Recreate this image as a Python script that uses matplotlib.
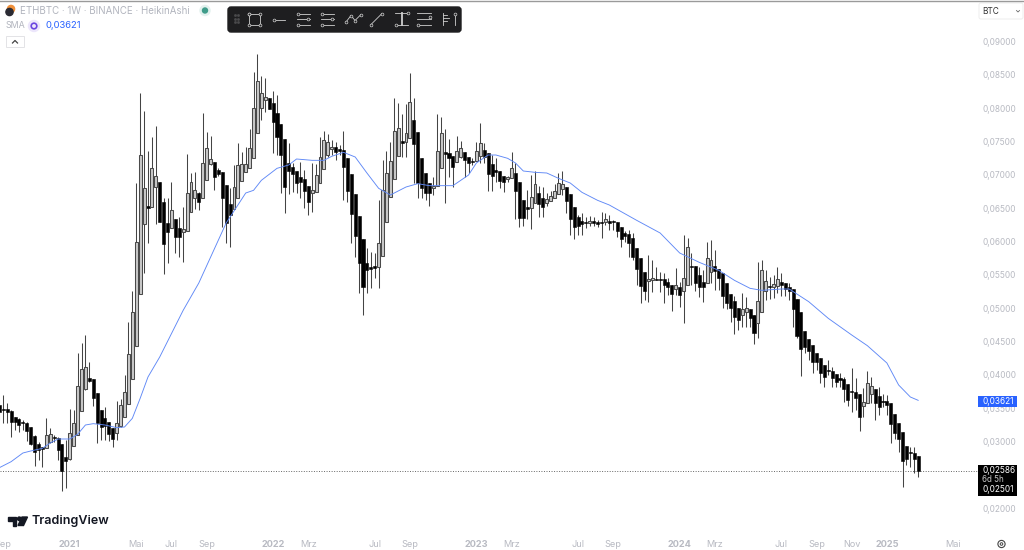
import numpy as np
import matplotlib
matplotlib.use('Agg')
import matplotlib.pyplot as plt
from matplotlib.patches import Circle, FancyBboxPatch, Rectangle
from matplotlib.ticker import FixedLocator, FuncFormatter

plt.rcParams['font.family'] = ['Inter', 'DejaVu Sans']

# weekly Heikin Ashi prices, ETHBTC in units of 0.0001 BTC
open_e4 = [355,349,349,346,337,334,330,328,322,308,296,292,
           290,299,307,305,296,277,274,293,310,346,379,395,
           394,373,347,335,329,320,313,323,337,356,394,444,
           522,626,653,652,682,689,659,628,620,634,620,614,
           616,644,665,673,665,692,716,719,707,704,685,656,
           649,665,691,704,710,725,763,800,812,815,808,793,
           776,754,718,712,706,697,694,683,673,674,688,709,
           730,739,742,739,737,725,701,671,638,604,568,562,
           563,562,578,629,667,694,728,751,749,755,782,764,
           725,703,688,680,683,710,734,733,728,719,727,734,
           727,721,721,728,737,733,716,707,706,698,694,695,
           703,689,662,652,650,658,673,665,658,661,665,671,
           679,682,671,652,637,631,629,628,631,629,629,629,
           631,631,629,622,613,611,605,590,575,554,541,542,
           544,544,544,539,535,529,532,526,535,563,563,550,
           539,538,554,563,559,553,538,521,511,500,490,494,
           499,490,478,494,526,533,532,533,539,538,532,529,
           514,494,466,454,445,433,425,415,407,406,401,395,
           394,386,376,374,371,353,358,371,379,368,361,361,
           358,341,328,314,293,284,283,279]
high_e4 = [363,370,358,347,337,335,332,330,322,310,299,292,
           335,320,310,307,296,302,349,347,433,448,460,419,
           394,373,347,352,329,320,361,364,400,479,526,688,
           823,796,736,757,773,689,665,665,689,634,637,652,
           731,703,704,674,793,764,758,719,710,704,685,680,
           715,748,734,742,769,854,881,848,845,815,826,820,
           776,754,748,718,706,719,707,683,718,716,757,766,
           761,752,749,745,766,725,701,671,638,604,590,584,
           583,662,722,736,749,815,808,791,806,853,815,764,
           725,703,688,697,791,787,769,754,728,758,751,734,
           727,725,749,778,748,733,730,725,706,698,698,734,
           718,689,662,677,700,706,683,682,673,676,686,703,
           706,682,671,652,640,643,637,638,637,632,644,643,
           640,632,629,622,616,617,613,590,575,554,580,572,
           562,554,553,545,535,560,539,610,605,583,563,562,
           557,599,602,587,559,553,538,521,518,500,523,517,
           499,490,569,572,557,547,550,562,553,538,538,529,
           514,494,466,454,445,433,425,415,422,412,401,403,
           397,386,410,395,371,380,406,397,379,382,371,370,
           358,341,328,314,293,292,292,279]
low_e4 = [333,328,328,307,318,314,318,301,295,263,272,262,
          290,298,299,272,226,230,272,293,310,346,377,389,
          353,298,302,302,301,292,302,322,337,356,394,444,
          522,553,598,652,626,629,551,568,620,583,577,569,
          616,644,649,647,665,692,715,677,698,622,598,592,
          649,665,691,704,710,725,763,782,794,799,733,730,
          673,643,671,674,673,665,650,640,644,674,688,709,
          727,730,722,730,662,659,598,577,523,490,523,530,
          545,530,578,629,667,694,728,727,727,755,688,665,
          665,662,653,670,683,710,658,697,682,719,725,697,
          703,715,721,718,718,676,676,689,680,674,689,695,
          634,622,623,634,619,658,637,637,653,661,665,671,
          670,643,610,604,610,610,620,623,623,622,605,625,
          618,618,607,592,599,577,572,535,508,512,509,524,
          542,524,508,520,496,520,502,478,535,535,526,517,
          509,538,538,527,527,500,499,479,461,467,472,472,
          472,446,455,494,512,514,515,523,518,518,512,472,
          455,398,433,422,403,407,388,382,400,382,382,382,
          359,353,344,347,316,337,358,358,332,340,352,340,
          298,304,284,232,265,262,253,247]
close_e4 = [345,347,345,330,330,325,328,316,296,284,287,289,
            310,311,305,287,256,271,313,328,383,409,412,391,
            365,328,322,323,311,304,328,355,374,431,494,600,
            730,680,650,710,698,629,596,614,647,607,607,619,
            673,689,677,659,718,740,724,697,701,665,628,640,
            682,715,716,716,740,800,841,823,817,799,779,757,
            730,682,706,701,688,689,676,659,677,700,727,752,
            749,742,734,736,712,676,641,608,568,532,557,559,
            560,598,677,703,721,766,770,748,763,809,746,688,
            680,673,673,683,736,763,731,725,712,736,740,722,
            718,719,736,748,727,701,698,704,691,689,697,710,
            676,635,635,649,667,686,656,652,664,668,676,688,
            686,661,634,622,623,627,628,631,628,626,628,634,
            628,629,616,604,608,598,577,559,533,526,544,545,
            542,542,535,532,521,535,520,545,592,562,538,532,
            532,575,572,556,545,518,508,500,487,482,499,500,
            485,463,511,557,541,532,536,544,535,529,526,499,
            458,439,442,436,419,419,403,397,406,395,389,392,
            379,363,374,365,337,359,388,383,358,352,359,355,
            326,313,304,271,274,283,274,256]

# SMA at a few dozen weeks
sma_week = [0,3,6,8,11,13,15,18,20,22,24,27,30,32,34,36,38,41,47,51,58,63,65,67,71,
            74,76,80,83,85,88,91,94,97,100,104,107,110,116,120,122,125,127,130,132,
            134,137,140,143,146,149,153,156,163,169,174,179,184,188,192,195,200,202,
            207,212,218,222,227,230,233,235]
sma_e4 = [261,270,283,286,290,298,304,304,311,325,327,325,321,322,335,365,397,427,497,538,628,673,677,692,710,
          715,724,722,722,728,734,727,703,680,670,682,687,684,684,700,718,730,730,725,718,
          706,704,703,695,688,674,662,655,632,613,583,569,557,542,530,527,529,529,
          510,485,460,444,418,385,367,362]

price_ticks = [0.02, 0.03, 0.035, 0.04, 0.045, 0.05, 0.055, 0.06, 0.065, 0.07,
               0.075, 0.08, 0.085, 0.09]
time_ticks = [1, 18, 35, 44, 53, 70, 79, 96, 105, 122, 131, 148, 157, 174, 183, 200, 209, 218, 227, 244]
time_labels = ['Sep', '2021', 'Mai', 'Jul', 'Sep', '2022', 'Mrz', 'Jul', 'Sep', '2023', 'Mrz',
               'Jul', 'Sep', '2024', 'Mrz', 'Jul', 'Sep', 'Nov', '2025', 'Mai']
year_labels = ['2021', '2022', '2023', '2024', '2025']

last_close = '0,02586'
last_low = '0,02501'
countdown = '6d 5h'
sma_last = '0,03621'

GREY = '#b2b5be'
BLUE = '#2962ff'
WICK = '#444444'

opens = np.array(open_e4) * 1e-4
highs = np.array(high_e4) * 1e-4
lows = np.array(low_e4) * 1e-4
closes = np.array(close_e4) * 1e-4
weeks = np.arange(len(opens))

fig = plt.figure(figsize=(10.24, 5.5), dpi=100)
fig.patch.set_facecolor('white')

# price pane
ax = fig.add_axes([0, 14 / 550, 978 / 1024, 536 / 550])
ax.vlines(weeks, lows, highs, color=WICK, linewidth=0.75, zorder=2)
down = closes <= opens
ax.bar(weeks[down], (opens - closes)[down] + 0.00002, bottom=closes[down], width=0.78,
       color='black', edgecolor='black', linewidth=0.4, zorder=3)
ax.bar(weeks[~down], (closes - opens)[~down], bottom=opens[~down], width=0.74,
       color='#c9c9c9', edgecolor='#4a4a4a', linewidth=0.75, zorder=3)
ax.plot(sma_week, np.array(sma_e4) * 1e-4, color='#5f88f6', linewidth=0.65, zorder=4)
ax.axhline(closes[-1], color='#666666', linewidth=0.7, linestyle=(0, (1, 1.6)), zorder=1)

ax.set_xlim(0.15, 250.3)
ax.set_ylim(0.01585, 0.09625)
ax.yaxis.tick_right()
ax.yaxis.set_major_locator(FixedLocator(price_ticks))
ax.yaxis.set_major_formatter(FuncFormatter(lambda v, p: f'{v:.5f}'.replace('.', ',')))
ax.tick_params(axis='y', length=0, pad=3, labelsize=6.0, labelcolor='#b8bac2')
ax.xaxis.set_major_locator(FixedLocator(time_ticks))
ax.set_xticklabels(time_labels)
ax.tick_params(axis='x', length=0, pad=3, labelsize=6.6, labelcolor='#b8bac2')
for lab in ax.get_xticklabels():
    if lab.get_text() in year_labels:
        lab.set_fontweight('bold')
for side in ax.spines.values():
    side.set_visible(False)

# overlay in pixel coordinates for the TradingView furniture
ov = fig.add_axes([0, 0, 1, 1])
ov.set_xlim(0, 1024)
ov.set_ylim(550, 0)
ov.axis('off')
ov.patch.set_alpha(0)

ov.plot([0, 1024], [0.5, 0.5], color='#9a9a9a', linewidth=1)

# header
ov.add_patch(Circle((11, 9), 3.6, color='#f0903a'))
ov.add_patch(Circle((9.5, 12), 3.6, color='#2b2b33'))
ov.text(20, 11, 'ETHBTC · 1W · BINANCE · HeikinAshi', fontsize=7.0, color=GREY, va='center')
ov.add_patch(Circle((205, 10.5), 5, color='#e3f1ee'))
ov.add_patch(Circle((205, 10.5), 2.5, color='#3f9c8a'))
ov.text(6, 26, 'SMA', fontsize=6.4, color=GREY, va='center')
ov.add_patch(Circle((34, 26), 5.5, color='#ece6fb'))
ov.add_patch(Circle((34, 26), 2.8, facecolor='none', edgecolor='#6a45e0', linewidth=1.2))
ov.text(46, 26, sma_last, fontsize=6.8, color=BLUE, va='center')
ov.add_patch(Rectangle((6, 36), 18, 11, facecolor='white', edgecolor='#e3e3e6', linewidth=0.7))
ov.plot([12.5, 15, 17.5], [43, 40.5, 43], color='#444444', linewidth=0.9)

# drawing toolbar
ov.add_patch(FancyBboxPatch((230, 9), 229, 21, boxstyle='round,pad=2,rounding_size=3',
                            facecolor='#1e1e20', edgecolor='#1e1e20', zorder=5))
tool = dict(color='#cfcfcf', linewidth=0.6, zorder=6, marker='o', markersize=2.0,
            markerfacecolor='#1e1e20', markeredgecolor='#cfcfcf', markeredgewidth=0.5)
plain = dict(color='#cfcfcf', linewidth=0.6, zorder=6)
dot = dict(marker='o', markersize=2.0, markerfacecolor='#1e1e20', markeredgecolor='#cfcfcf',
           markeredgewidth=0.5, linestyle='none', zorder=7)
for gx, gy in [(235, 15), (238, 15), (235, 18.5), (238, 18.5), (235, 22), (238, 22)]:
    ov.plot(gx, gy, 's', color='#4a4a4c', markersize=0.9, zorder=6)
ov.plot([249, 260, 260, 249, 249], [13.5, 13.5, 24.5, 24.5, 13.5], **tool)
ov.plot([274, 285], [19.5, 19.5], **plain)
ov.plot([274], [19.5], **dot)
for fy, fx in ((14, 298), (19, 308), (24.5, 298)):
    ov.plot([297, 310], [fy, fy], **plain)
    ov.plot([fx], [fy], **dot)
for fy, fx in ((14, 322), (19, 332), (24.5, 322)):
    ov.plot([321, 334], [fy, fy], **plain)
    ov.plot([fx], [fy], **dot)
ov.plot([346, 351, 355, 361], [22, 15.5, 20.5, 14.5], **tool)
ov.plot([371, 382], [24.5, 13.5], **tool)
ov.plot([395, 408], [13, 13], **plain)
ov.plot([396, 408], [25, 25], **plain)
ov.plot([408], [13], **dot)
ov.plot([396], [25], **dot)
ov.plot([401.5, 401.5], [13, 25], color='#cfcfcf', linewidth=1.3, zorder=6)
for fy in (13, 19, 25):
    ov.plot([417, 431], [fy, fy], **plain)
ov.plot([430], [16.5], **dot)
ov.plot([418], [24.5], **dot)
ov.plot([442.5, 442.5], [13, 25], **plain)
for fy, fw in ((15, 4), (18, 6), (21, 4)):
    ov.plot([442.5, 442.5 + fw], [fy, fy], **plain)
ov.plot([455, 455], [13.5, 25], **plain)
ov.plot([455], [13.5], **dot)

# price scale labels
ov.add_patch(FancyBboxPatch((980, 4), 42, 14, boxstyle='round,pad=1,rounding_size=2',
                            facecolor='white', edgecolor='#eeeeee', linewidth=0.7))
ov.text(982, 11, 'BTC', fontsize=6.0, color='#333333', va='center')
ov.plot([1016.5, 1018, 1019.5], [10.5, 12, 10.5], color='#666666', linewidth=0.6)
ov.add_patch(Rectangle((978, 396), 39, 11, facecolor=BLUE, edgecolor='none', zorder=5))
ov.text(982.5, 401.5, sma_last, fontsize=6.0, color='white', va='center', zorder=6)
ov.add_patch(Rectangle((978, 465), 39, 31, facecolor='black', edgecolor='none', zorder=5))
ov.text(982.5, 470.5, last_close, fontsize=6.0, color='white', va='center', zorder=6)
ov.text(982.5, 479, countdown, fontsize=5.8, color='#c8c8c8', va='center', zorder=6)
ov.text(982.5, 490, last_low, fontsize=6.0, color='white', va='center', zorder=6)

# logo and settings icon
ov.fill([8, 16, 16, 12.5, 12.5, 8], [517, 517, 525.5, 525.5, 520.5, 520.5], color='#131722')
ov.add_patch(Circle((19.3, 518.8), 1.8, color='#131722'))
ov.fill([22, 27.5, 23.5, 18], [517, 517, 525.5, 525.5], color='#131722')
ov.text(31.5, 521, 'TradingView', fontsize=9.0, fontweight='semibold', color='#131722', va='center')
ov.add_patch(Circle((1001.5, 544), 3.6, facecolor='white', edgecolor='#444444', linewidth=0.8))
ov.add_patch(Circle((1001.5, 544), 1.3, facecolor='white', edgecolor='#444444', linewidth=0.7))

plt.savefig('out.png', dpi=100, facecolor='white')
